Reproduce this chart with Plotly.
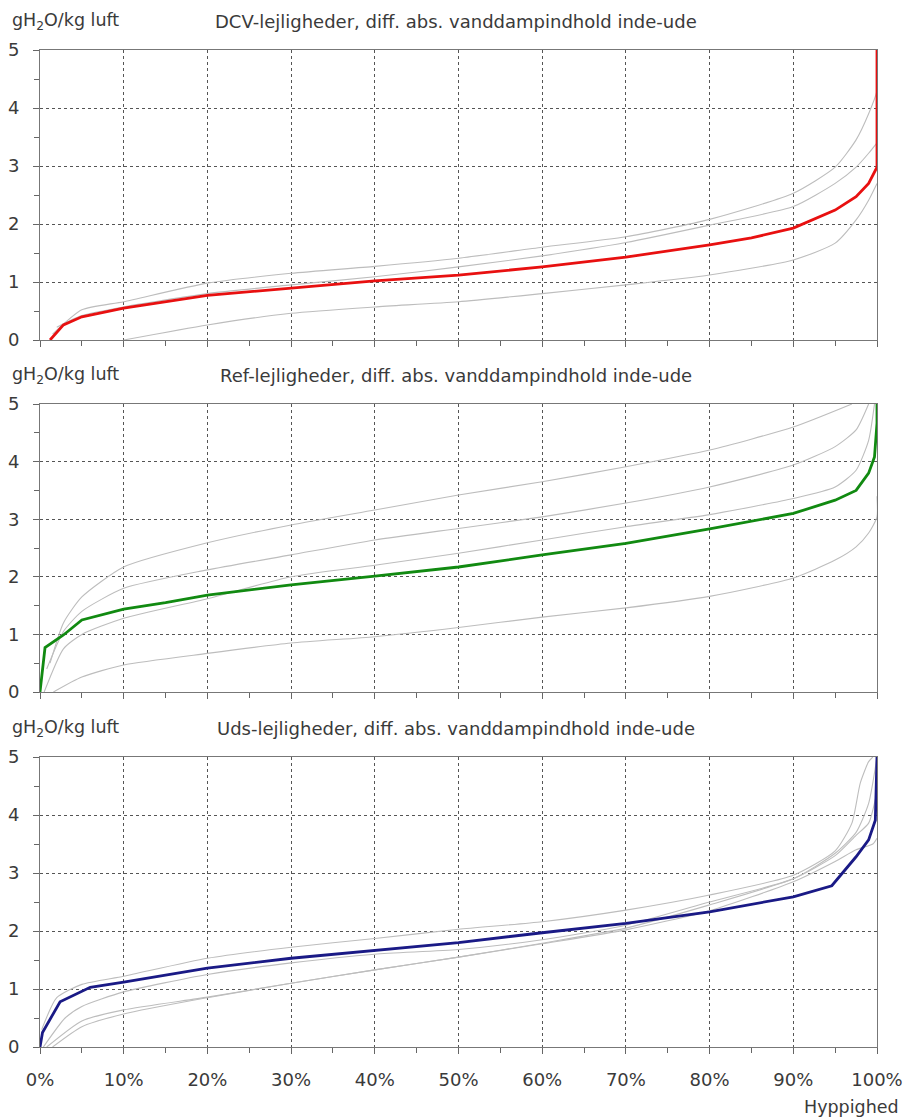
import plotly.graph_objects as go

# ---------------- data (x = Hyppighed in %, y = gH2O/kg luft) ----------------
# Panel 1: DCV-lejligheder
dcv_x = [1.2, 2.8, 5, 10, 20, 30, 40, 50, 60, 70, 80, 85, 90, 95, 97.5, 99, 100, 100]
dcv_y = [0, 0.26, 0.4, 0.55, 0.77, 0.89, 1.02, 1.12, 1.26, 1.43, 1.64, 1.76, 1.93, 2.24, 2.47, 2.7, 2.98, 5.0]
dcv_g1_x = [1.5, 5, 10, 20, 30, 40, 50, 60, 70, 80, 90, 95, 97.5, 99, 100, 100]
dcv_g1_y = [0.1, 0.52, 0.66, 0.98, 1.15, 1.27, 1.41, 1.6, 1.78, 2.08, 2.53, 2.98, 3.45, 3.9, 4.3, 5.0]
dcv_g2_x = [2, 5, 10, 20, 30, 40, 50, 60, 70, 80, 90, 95, 97.5, 99, 100]
dcv_g2_y = [0.22, 0.42, 0.57, 0.8, 0.95, 1.09, 1.26, 1.45, 1.68, 1.98, 2.3, 2.7, 2.98, 3.22, 3.4]
dcv_g3_x = [10, 20, 30, 40, 50, 60, 70, 80, 90, 95, 97.5, 99, 100]
dcv_g3_y = [0, 0.26, 0.46, 0.57, 0.66, 0.8, 0.95, 1.12, 1.38, 1.67, 2.07, 2.41, 2.7]

# Panel 2: Ref-lejligheder
ref_x = [0, 0.6, 2.8, 5, 10, 15, 20, 30, 40, 50, 60, 70, 80, 90, 95, 97.5, 99, 99.7, 100, 100]
ref_y = [0, 0.77, 0.99, 1.25, 1.44, 1.55, 1.68, 1.86, 2.01, 2.17, 2.38, 2.58, 2.83, 3.1, 3.33, 3.5, 3.8, 4.08, 4.67, 5.0]
ref_g1_x = [1.2, 2.8, 5, 10, 20, 30, 40, 50, 60, 70, 80, 90, 97]
ref_g1_y = [0.5, 1.2, 1.65, 2.17, 2.59, 2.9, 3.16, 3.42, 3.65, 3.91, 4.2, 4.6, 5.0]
ref_g2_x = [0.8, 2.8, 5, 10, 20, 30, 40, 50, 60, 70, 80, 90, 95, 97.5, 99]
ref_g2_y = [0.4, 1.05, 1.4, 1.8, 2.12, 2.38, 2.64, 2.84, 3.04, 3.28, 3.56, 3.94, 4.26, 4.55, 5.0]
ref_g3_x = [0.5, 2.8, 5, 10, 20, 30, 40, 50, 60, 70, 80, 90, 95, 97.5, 99, 99.7]
ref_g3_y = [0.0, 0.75, 1.0, 1.28, 1.62, 2.0, 2.2, 2.41, 2.64, 2.87, 3.08, 3.36, 3.56, 3.85, 4.37, 5.0]
ref_g4_x = [1.6, 5, 10, 20, 30, 40, 50, 60, 70, 80, 90, 95, 97.5, 99, 100, 100]
ref_g4_y = [0, 0.26, 0.47, 0.67, 0.85, 0.96, 1.12, 1.3, 1.46, 1.66, 1.98, 2.29, 2.52, 2.76, 3.04, 3.4]

# Panel 3: Uds-lejligheder
uds_x = [0, 0.3, 2.4, 6, 10, 20, 30, 40, 50, 60, 70, 80, 90, 94.6, 97.5, 99, 99.8, 100]
uds_y = [0, 0.25, 0.78, 1.03, 1.12, 1.36, 1.53, 1.66, 1.8, 1.97, 2.13, 2.33, 2.59, 2.78, 3.28, 3.57, 3.91, 5.0]
uds_g1_x = [0.2, 2, 5, 10, 20, 30, 40, 50, 60, 70, 80, 90, 95, 97, 98, 99, 99.5]
uds_g1_y = [0.3, 0.85, 1.08, 1.22, 1.53, 1.72, 1.87, 2.03, 2.16, 2.36, 2.62, 2.96, 3.38, 3.86, 4.55, 4.92, 5.0]
uds_g2_x = [0.4, 3, 5, 10, 20, 30, 40, 50, 60, 70, 80, 90, 95, 97.5, 99, 100]
uds_g2_y = [0, 0.5, 0.7, 0.95, 1.25, 1.45, 1.6, 1.68, 1.85, 2.1, 2.5, 2.9, 3.34, 3.7, 4.2, 5.0]
uds_g3_x = [0.8, 5, 10, 20, 30, 40, 50, 60, 70, 80, 90, 95, 97.5, 99, 100]
uds_g3_y = [0, 0.45, 0.64, 0.86, 1.1, 1.33, 1.55, 1.79, 2.05, 2.45, 2.9, 3.3, 3.65, 3.86, 4.4]
uds_g4_x = [1.5, 5, 10, 20, 30, 40, 50, 60, 70, 80, 90, 95, 97.5, 99.5, 100]
uds_g4_y = [0, 0.35, 0.57, 0.85, 1.1, 1.33, 1.55, 1.78, 2.02, 2.35, 2.85, 3.2, 3.4, 3.5, 3.6]

x_ticks = [0, 10, 20, 30, 40, 50, 60, 70, 80, 90, 100]
x_tick_labels = ["0%", "10%", "20%", "30%", "40%", "50%", "60%", "70%", "80%", "90%", "100%"]
y_ticks = [0, 1, 2, 3, 4, 5]
y_tick_labels = ["0", "1", "2", "3", "4", "5"]

titles = [
    "DCV-lejligheder, diff. abs. vanddampindhold inde-ude",
    "Ref-lejligheder, diff. abs. vanddampindhold inde-ude",
    "Uds-lejligheder, diff. abs. vanddampindhold inde-ude",
]
y_title = "gH<sub>2</sub>O/kg luft"
x_title = "Hyppighed"

# ---------------- figure ----------------
W, H = 905, 1120
FONT = "DejaVu Sans, Verdana, sans-serif"
GRAY = "#bdbdbd"
TXT = "#3a3a3a"

panels = [
    dict(main=(dcv_x, dcv_y, "#e81010"),
         grays=[(dcv_g1_x, dcv_g1_y), (dcv_g2_x, dcv_g2_y), (dcv_g3_x, dcv_g3_y)],
         top=50, bot=340),
    dict(main=(ref_x, ref_y, "#118a11"),
         grays=[(ref_g1_x, ref_g1_y), (ref_g2_x, ref_g2_y), (ref_g3_x, ref_g3_y), (ref_g4_x, ref_g4_y)],
         top=404, bot=692),
    dict(main=(uds_x, uds_y, "#1a1a86"),
         grays=[(uds_g1_x, uds_g1_y), (uds_g2_x, uds_g2_y), (uds_g3_x, uds_g3_y), (uds_g4_x, uds_g4_y)],
         top=757, bot=1047),
]

fig = go.Figure()
x_dom = [40 / W, 877 / W]
annotations = []
for i, p in enumerate(panels):
    n = i + 1
    xa = "x" if n == 1 else f"x{n}"
    ya = "y" if n == 1 else f"y{n}"
    for gx, gy in p["grays"]:
        fig.add_trace(go.Scatter(x=gx, y=gy, mode="lines", xaxis=xa, yaxis=ya,
                                 line=dict(color=GRAY, width=1.1, shape="spline", smoothing=0.6),
                                 showlegend=False, hoverinfo="skip"))
    mx, my, mc = p["main"]
    fig.add_trace(go.Scatter(x=mx, y=my, mode="lines", xaxis=xa, yaxis=ya,
                             line=dict(color=mc, width=2.8),
                             showlegend=False))
    y_dom = [1 - p["bot"] / H, 1 - p["top"] / H]
    xkey = "xaxis" if n == 1 else f"xaxis{n}"
    ykey = "yaxis" if n == 1 else f"yaxis{n}"
    fig.layout[xkey] = dict(
        domain=x_dom, anchor=ya, range=[0, 100],
        tickmode="array", tickvals=x_ticks, ticktext=x_tick_labels,
        showticklabels=(n == 3), automargin=False,
        ticks="outside", ticklen=6, tickcolor="#666",
        minor=dict(ticks="outside", ticklen=5, dtick=5, tick0=0, tickcolor="#666", showgrid=False),
        showgrid=True, gridcolor="#555", griddash="dot", gridwidth=1,
        showline=True, linecolor="#777", linewidth=1, mirror=True,
        zeroline=False, ticklabelstandoff=10,
        tickfont=dict(family=FONT, size=18, color=TXT),
    )
    fig.layout[ykey] = dict(
        domain=y_dom, anchor=xa, range=[0, 5],
        tickmode="array", tickvals=y_ticks, ticktext=y_tick_labels,
        automargin=False,
        ticks="outside", ticklen=6, tickcolor="#666",
        minor=dict(ticks="outside", ticklen=5, dtick=0.5, tick0=0, tickcolor="#666", showgrid=False),
        showgrid=True, gridcolor="#555", griddash="dot", gridwidth=1,
        showline=True, linecolor="#777", linewidth=1, mirror=True,
        zeroline=False, ticklabelstandoff=10,
        tickfont=dict(family=FONT, size=18, color=TXT),
    )
    ty = p["top"] - 29
    annotations.append(dict(text=y_title, x=10 / W, y=1 - ty / H, xref="paper", yref="paper",
                            xanchor="left", yanchor="middle", showarrow=False,
                            font=dict(family=FONT, size=17.5, color=TXT)))
    annotations.append(dict(text=titles[i], x=456 / W, y=1 - ty / H, xref="paper", yref="paper",
                            xanchor="center", yanchor="middle", showarrow=False,
                            font=dict(family=FONT, size=18, color=TXT)))

annotations.append(dict(text=x_title, x=901 / W, y=1 - 1107 / H, xref="paper", yref="paper",
                        xanchor="right", yanchor="middle", showarrow=False,
                        font=dict(family=FONT, size=17.5, color=TXT)))

fig.update_layout(
    width=W, height=H, margin=dict(l=0, r=0, t=0, b=0, autoexpand=False),
    paper_bgcolor="white", plot_bgcolor="white",
    annotations=annotations, showlegend=False,
    font=dict(family=FONT, color=TXT),
)

fig.write_html(
    "out.html",
    config={"displayModeBar": False},
    post_script="document.body.style.margin='0';document.body.style.padding='0';"
                "document.documentElement.style.overflow='hidden';",
)
